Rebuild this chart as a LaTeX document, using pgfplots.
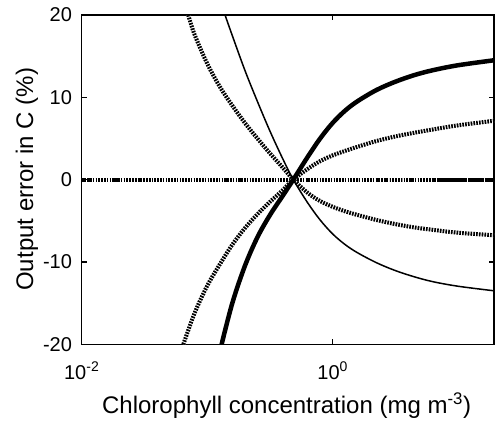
\documentclass[border=0pt]{standalone}
\usepackage{pgfplots}
\pgfplotsset{compat=1.18}
\usepackage{fontspec}
\setmainfont{Liberation Sans}
\tikzset{striped/.style={preaction={draw, gray!45, line width=4pt}, black, line width=4pt, dash pattern=on 1.6pt off 1.2pt}}
\begin{document}
\fontsize{20}{24}\selectfont
\begin{tikzpicture}
\begin{axis}[name=ax,
  scale only axis, width=412.3pt, height=329.3pt,
  xmode=log, xmin=0.01, xmax=19.28, ymin=-20, ymax=20,
  xtick={0.01,1}, xticklabels={10\textsuperscript{-2},10\textsuperscript{0}},
  ytick={-20,-10,0,10,20}, yticklabels={-20,-10,0,10,20},
  xminorticks=false, yminorticks=false,
  tick pos=both, tick align=inside, major tick length=5pt,
  axis line style={line width=1.4pt}, every tick/.style={black, line width=1.2pt},
  tick label style={font=\fontsize{20}{24}\selectfont},
  xticklabel style={anchor=base, yshift=-35pt, inner sep=0pt},
  yticklabel style={anchor=east, xshift=-9.5pt, inner sep=0pt},
  label style={font=\fontsize{24}{28}\selectfont},
  xlabel={Chlorophyll concentration (mg m\textsuperscript{-3})},
  ylabel={Output error in C (\%)},
  xlabel style={at={(axis description cs:0.497,-0.2095)}, anchor=base, inner sep=0pt},
  ylabel style={at={(axis description cs:-0.1181,0.501)}, anchor=base, inner sep=0pt},
  every axis plot/.append style={smooth, tension=0.55},
]
% zero line
\addplot[striped] coordinates {(0.01,0) (19.28,0)};
\addplot[black, line width=4pt, dash pattern=on 14pt off 2pt] coordinates {(6.73,0) (19.28,0)};
% curve C (dotted, decreasing)
\addplot[striped] coordinates {
(0.07063,20) (0.07943,17.6) (0.1,14.1) (0.1259,11.3) (0.1585,9.0) (0.1995,6.9) (0.2512,5.0) (0.3162,3.2) (0.3981,1.5) (0.4853,0)
(0.6310,-1.6) (0.7943,-2.6) (1,-3.3) (1.259,-3.85) (1.585,-4.3) (2.239,-4.9) (3.162,-5.4) (4.467,-5.8) (6.310,-6.1) (10,-6.45) (19.28,-6.75)};
% curve D (dotted, increasing)
\addplot[striped] coordinates {
(0.06457,-20) (0.07943,-16.2) (0.1,-12.9) (0.1259,-10.3) (0.1585,-7.9) (0.1995,-5.9) (0.2512,-4.2) (0.3162,-2.7) (0.3981,-1.3) (0.4853,0)
(0.6310,1.3) (0.7943,2.25) (1,2.95) (1.259,3.5) (1.585,4.0) (2.239,4.7) (3.162,5.25) (4.467,5.7) (6.310,6.1) (10,6.6) (19.28,7.15)};
% curve B (thin solid)
\addplot[black, line width=1.5pt] coordinates {
(0.1387,20) (0.1585,17.5) (0.1995,13.3) (0.2512,9.5) (0.3162,5.9) (0.3981,2.6) (0.4853,0)
(0.6310,-2.8) (0.7943,-4.9) (1,-6.6) (1.259,-7.9) (1.585,-8.9) (2.239,-10.1) (3.162,-11.05) (4.467,-11.8) (6.310,-12.4) (10,-12.95) (19.28,-13.5)};
% curve A (thick solid)
\addplot[black, line width=4.5pt] coordinates {
(0.1303,-20) (0.1585,-15.0) (0.1995,-10.5) (0.2512,-7.0) (0.3162,-4.3) (0.3981,-2.0) (0.4853,0)
(0.6310,2.75) (0.7943,5.0) (1,6.9) (1.259,8.4) (1.585,9.55) (2.239,10.9) (3.162,11.9) (4.467,12.7) (6.310,13.3) (10,13.9) (19.28,14.5)};
\end{axis}
\pgfresetboundingbox
\path ([xshift=-81.7pt,yshift=-81.7pt]ax.south west) rectangle ([xshift=1pt,yshift=15pt]ax.north east);
\end{tikzpicture}
\end{document}
